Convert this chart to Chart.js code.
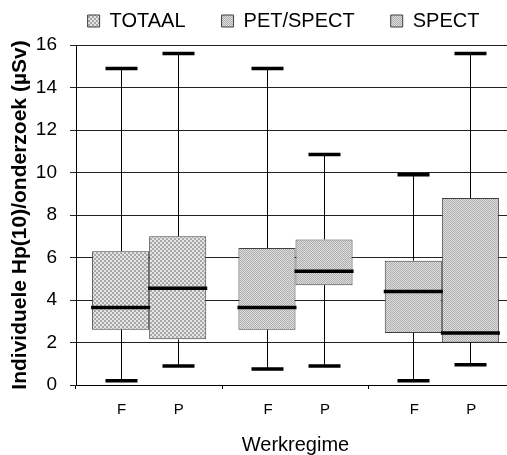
<!DOCTYPE html>
<html>
<head>
<meta charset="utf-8">
<script src="https://cdn.jsdelivr.net/npm/chart.js@4.4.1/dist/chart.umd.min.js"></script>
<style>
  html, body { margin: 0; padding: 0; background: #fff; overflow: hidden; }
  #wrap { width: 520px; height: 455px; }
</style>
</head>
<body>
<div id="wrap"><canvas id="boxChart" width="520" height="455"></canvas></div>
<script>
const groups = ['TOTAAL', 'PET/SPECT', 'SPECT'];
const regimes = ['F', 'P'];

// F regime, one value per group
const fMin = [0.2, 0.75, 0.2];
const fQ1  = [2.6, 2.6, 2.45];
const fMed = [3.65, 3.65, 4.4];
const fQ3  = [6.3, 6.45, 5.85];
const fMax = [14.9, 14.9, 9.9];

// P regime
const pMin = [0.9, 0.9, 0.95];
const pQ1  = [2.15, 4.7, 2.0];
const pMed = [4.55, 5.35, 2.45];
const pQ3  = [7.0, 6.85, 8.8];
const pMax = [15.6, 10.85, 15.6];

Chart.defaults.font.family = 'Arial, "Liberation Sans", sans-serif';
Chart.defaults.color = '#000';

// small grey stipple fills, one per group
function makePattern(light, dark, cells) {
    const c = document.createElement('canvas');
    c.width = c.height = 4;
    const g = c.getContext('2d');
    g.fillStyle = light;
    g.fillRect(0, 0, 4, 4);
    g.fillStyle = dark;
    cells.forEach(([x, y, w, h]) => g.fillRect(x, y, w, h));
    return g.createPattern(c, 'repeat');
}
const fills = [
    makePattern('#e4e4e4', '#a8a8a8', [[0, 0, 2, 2], [2, 2, 2, 2]]),
    makePattern('#e0e0e0', '#acacac', [[0, 0, 1, 1], [2, 0, 1, 1], [1, 1, 1, 1], [3, 1, 1, 1], [0, 2, 1, 1], [2, 2, 1, 1], [1, 3, 1, 1], [3, 3, 1, 1]]),
    makePattern('#dcdcdc', '#b0b0b0', [[0, 0, 1, 1], [1, 1, 1, 1], [2, 2, 1, 1], [3, 3, 1, 1], [2, 0, 1, 1], [3, 1, 1, 1], [0, 2, 1, 1], [1, 3, 1, 1]])
];

function boxSeries(label, q1, q3, lows, medians, highs) {
    return {
        label,
        data: q1.map((v, i) => [v, q3[i]]),
        lows, medians, highs,
        backgroundColor: fills,
        borderColor: '#404040',
        borderWidth: 1,
        borderSkipped: false,
        categoryPercentage: 0.78,
        barPercentage: 1
    };
}

// whiskers, caps and medians on top of the boxes, plus the F/P labels
const boxWhiskers = {
    id: 'boxWhiskers',
    afterDatasetsDraw(chart) {
        const { ctx } = chart;
        const y = chart.scales.y;
        ctx.save();
        ctx.strokeStyle = '#000';
        chart.data.datasets.forEach((ds, di) => {
            chart.getDatasetMeta(di).data.forEach((bar, i) => {
                const x = Math.round(bar.x) + 0.5;
                const half = bar.width / 2;
                const hi = y.getPixelForValue(ds.highs[i]);
                const lo = y.getPixelForValue(ds.lows[i]);
                const med = y.getPixelForValue(ds.medians[i]);
                ctx.lineWidth = 1;
                ctx.beginPath();
                ctx.moveTo(x, y.getPixelForValue(ds.data[i][1]));
                ctx.lineTo(x, hi);
                ctx.moveTo(x, y.getPixelForValue(ds.data[i][0]));
                ctx.lineTo(x, lo);
                ctx.stroke();
                ctx.lineWidth = 3.5;
                ctx.beginPath();
                ctx.moveTo(x - 16, hi);
                ctx.lineTo(x + 16, hi);
                ctx.moveTo(x - 16, lo);
                ctx.lineTo(x + 16, lo);
                ctx.moveTo(bar.x - half - 1, med);
                ctx.lineTo(bar.x + half + 1, med);
                ctx.stroke();
            });
        });
        ctx.restore();
    },
    afterDraw(chart) {
        const { ctx } = chart;
        const xs = chart.scales.x;
        ctx.save();
        ctx.font = '15px Arial, "Liberation Sans", sans-serif';
        ctx.fillStyle = '#000';
        ctx.textAlign = 'center';
        ctx.textBaseline = 'middle';
        chart.data.datasets.forEach((ds, di) => {
            chart.getDatasetMeta(di).data.forEach(bar => {
                ctx.fillText(ds.label, bar.x + 1, xs.top + 25);
            });
        });
        ctx.restore();
    }
};

// nudge the legend row right and up (bottom stays, so the clip box still holds it)
const legendShift = {
    id: 'legendShift',
    afterLayout(chart) {
        const lg = chart.legend;
        lg.left += 24;
        lg.right += 24;
        lg.top -= 25;
    }
};

new Chart(document.getElementById('boxChart'), {
    type: 'bar',
    data: {
        labels: groups,
        datasets: [
            boxSeries(regimes[0], fQ1, fQ3, fMin, fMed, fMax),
            boxSeries(regimes[1], pQ1, pQ3, pMin, pMed, pMax)
        ]
    },
    plugins: [boxWhiskers, legendShift],
    options: {
        responsive: false,
        animation: false,
        layout: { padding: { left: 4, right: 5, top: 0, bottom: 0 } },
        plugins: {
            tooltip: { enabled: false },
            legend: {
                position: 'top',
                maxHeight: 45,
                labels: {
                    font: { size: 20 },
                    color: '#000',
                    boxWidth: 12,
                    boxHeight: 12,
                    padding: 36,
                    generateLabels: () => groups.map((g, i) => ({
                        text: g,
                        fillStyle: fills[i],
                        strokeStyle: '#404040',
                        lineWidth: 1,
                        hidden: false,
                        index: i
                    }))
                }
            }
        },
        scales: {
            x: {
                grid: { offset: true, drawOnChartArea: false, tickLength: 4, color: '#000' },
                border: { color: '#000' },
                ticks: { display: false },
                title: {
                    display: true,
                    text: 'Werkregime',
                    font: { size: 20, lineHeight: 1 },
                    padding: { top: 46, bottom: 0 }
                }
            },
            y: {
                min: 0,
                max: 16,
                afterFit: (scale) => { scale.width = 72; },
                ticks: { stepSize: 2, padding: 13, font: { size: 19 } },
                grid: { color: '#222', tickLength: 6 },
                border: { color: '#000' },
                title: {
                    display: true,
                    text: 'Individuele Hp(10)/onderzoek (µSv)',
                    font: { size: 21, weight: 'bold' },
                    padding: { top: 4, bottom: 4 }
                }
            }
        }
    }
});
</script>
</body>
</html>
